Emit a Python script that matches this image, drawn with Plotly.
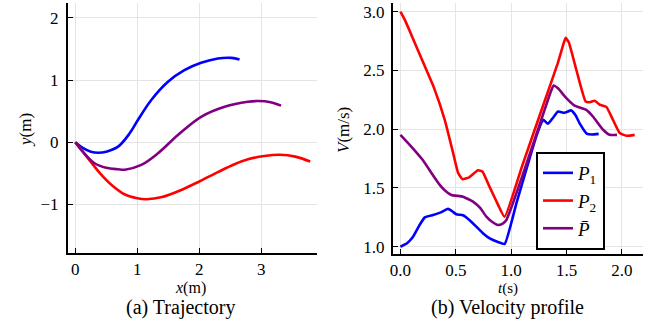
import plotly.graph_objects as go

# ---------------- data ----------------
# (a) trajectories
p1_x = [0, 0.12, 0.25, 0.37, 0.5, 0.69, 0.877, 1.01, 1.226, 1.495, 1.76, 2.03, 2.30, 2.52, 2.65]
p1_y = [0, -0.09, -0.15, -0.167, -0.15, -0.07, 0.144, 0.358, 0.68, 0.973, 1.16, 1.278, 1.348, 1.358, 1.332]
p2_x = [0, 0.2, 0.4, 0.6, 0.8, 1.0, 1.15, 1.4, 1.7, 2.0, 2.3, 2.55, 2.8, 3.05, 3.3, 3.55, 3.79]
p2_y = [0, -0.25, -0.5, -0.7, -0.84, -0.9, -0.915, -0.88, -0.77, -0.63, -0.48, -0.36, -0.27, -0.22, -0.2, -0.23, -0.31]
pm_x = [0, 0.12, 0.31, 0.5, 0.69, 0.80, 1.065, 1.334, 1.656, 2.03, 2.41, 2.785, 2.95, 3.15, 3.32]
pm_y = [0, -0.15, -0.337, -0.41, -0.434, -0.44, -0.364, -0.177, 0.117, 0.41, 0.572, 0.652, 0.663, 0.645, 0.59]

# (b) velocity profiles
v1_t = [0, 0.06, 0.114, 0.17, 0.22, 0.294, 0.36, 0.415, 0.43, 0.47, 0.505, 0.565, 0.62, 0.686, 0.75, 0.806, 0.88, 0.941,
        1.05, 1.15, 1.22, 1.27, 1.29, 1.332, 1.38, 1.422, 1.48, 1.543, 1.58, 1.618, 1.685, 1.73, 1.79]
v1_v = [1.0, 1.03, 1.085, 1.18, 1.25, 1.27, 1.29, 1.318, 1.322, 1.3, 1.276, 1.268, 1.23, 1.17, 1.11, 1.07, 1.04, 1.023,
        1.38, 1.7, 1.92, 2.05, 2.08, 2.046, 2.1, 2.15, 2.14, 2.16, 2.12, 2.05, 1.96, 1.955, 1.96]
v2_t = [0, 0.04, 0.1, 0.2, 0.3, 0.4, 0.47, 0.52, 0.56, 0.62, 0.7, 0.74, 0.8, 0.86, 0.94,
        1.1, 1.3, 1.42, 1.47, 1.492, 1.52, 1.588, 1.672, 1.71, 1.754, 1.8, 1.859, 1.919, 1.98, 2.04, 2.115]
v2_v = [3.0, 2.93, 2.8, 2.58, 2.36, 2.08, 1.82, 1.63, 1.575, 1.59, 1.65, 1.64, 1.52, 1.40, 1.255,
        1.69, 2.234, 2.56, 2.72, 2.777, 2.74, 2.506, 2.236, 2.23, 2.242, 2.208, 2.19, 2.08, 1.967, 1.944, 1.952]
vm_t = [0, 0.1, 0.2, 0.3, 0.355, 0.4, 0.46, 0.565, 0.655, 0.72, 0.776, 0.83, 0.88, 0.92, 0.957,
        1.0, 1.1, 1.2, 1.3, 1.35, 1.383, 1.42, 1.498, 1.573, 1.678, 1.738, 1.83, 1.889, 1.955]
vm_v = [1.952, 1.85, 1.74, 1.60, 1.526, 1.48, 1.44, 1.426, 1.384, 1.33, 1.256, 1.21, 1.185, 1.195, 1.228,
        1.33, 1.60, 1.88, 2.16, 2.30, 2.372, 2.35, 2.265, 2.2, 2.165, 2.108, 1.995, 1.952, 1.952]

names = ["<i>P</i><sub>1</sub>", "<i>P</i><sub>2</sub>", "<i>P̄</i>"]
colors = ["#0000ff", "#ff0000", "#800080"]

FONT = "Liberation Serif, DejaVu Serif, serif"
W, H = 656, 322

fig = go.Figure()
for xs, ys, c in [(p1_x, p1_y, colors[0]), (p2_x, p2_y, colors[1]), (pm_x, pm_y, colors[2])]:
    fig.add_trace(go.Scatter(x=xs, y=ys, mode="lines", line=dict(color=c, width=2.6, shape="spline", smoothing=1.0),
                             showlegend=False, xaxis="x", yaxis="y"))
for ts, vs, c, n in [(v1_t, v1_v, colors[0], names[0]), (v2_t, v2_v, colors[1], names[1]), (vm_t, vm_v, colors[2], names[2])]:
    fig.add_trace(go.Scatter(x=ts, y=vs, mode="lines", line=dict(color=c, width=2.6, shape="spline", smoothing=0.4),
                             name=n, showlegend=True, xaxis="x2", yaxis="y2"))

def px_x(p):
    return p / W

def px_y(p):
    return 1 - p / H

axis_common = dict(showline=True, linewidth=2, linecolor="black", mirror=False,
                   ticks="inside", ticklen=5, tickwidth=1, tickcolor="black",
                   showgrid=True, gridcolor="#e4e4e4", gridwidth=1, zeroline=False, automargin=False,
                   tickfont=dict(family=FONT, size=17, color="black"))

fig.update_layout(
    width=W, height=H, margin=dict(l=0, r=0, t=0, b=0, pad=0, autoexpand=False),
    paper_bgcolor="white", plot_bgcolor="white",
    font=dict(family=FONT, color="black"),
    xaxis=dict(domain=[px_x(68), px_x(317)], range=[-0.118, 3.90], tickvals=[0, 1, 2, 3],
               anchor="y", **axis_common),
    yaxis=dict(domain=[px_y(253), px_y(3)], range=[-1.78, 2.24], tickvals=[-1, 0, 1, 2],
               ticktext=["\u22121", "0", "1", "2"], anchor="x", ticklabelstandoff=4, **axis_common),
    xaxis2=dict(domain=[px_x(393), px_x(643)], range=[-0.067, 2.19], tickvals=[0, 0.5, 1, 1.5, 2],
                ticktext=["0.0", "0.5", "1.0", "1.5", "2.0"], anchor="y2", **axis_common),
    yaxis2=dict(domain=[px_y(254), px_y(3)], range=[0.938, 3.074], tickvals=[1, 1.5, 2, 2.5, 3],
                ticktext=["1.0", "1.5", "2.0", "2.5", "3.0"], anchor="x2", ticklabelstandoff=3, **axis_common),
    legend=dict(x=px_x(536), y=px_y(152), xanchor="left", yanchor="top",
                bgcolor="white", bordercolor="black", borderwidth=2,
                font=dict(family=FONT, size=19, color="black"),
                entrywidth=56, tracegroupgap=0),
)

def ann(text, x, y, size, angle=0):
    return dict(text=text, x=px_x(x), y=px_y(y), xref="paper", yref="paper",
                xanchor="center", yanchor="middle", showarrow=False, textangle=angle,
                font=dict(family=FONT, size=size, color="black"))

annotations = [
    ann("<i>x</i>(m)", 190, 288, 16),
    ann("<i>y</i>(m)", 25, 130, 17, -90),
    ann("<i>t</i>(s)", 508, 288, 15),
    ann("<i>V</i>(m/s)", 343, 130, 17, -90),
    ann("(a) Trajectory", 180, 307, 20),
    ann("(b) Velocity profile", 507, 307, 20),
]
fig.update_layout(annotations=annotations)

fig.write_html("out.html", config={"displayModeBar": False},
               post_script="document.body.style.margin='0px';document.body.style.overflow='hidden';")
